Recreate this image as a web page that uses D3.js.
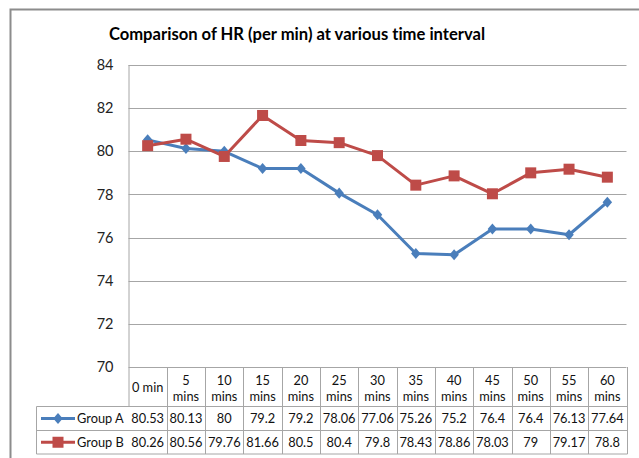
<!DOCTYPE html>
<html>
<head>
<meta charset="utf-8">
<script src="https://cdn.jsdelivr.net/npm/d3@7"></script>
<style>
  body { margin: 0; background: #fff; }
  svg { display: block; font-family: Lato, "Open Sans", sans-serif; font-variant-ligatures: none; }
</style>
</head>
<body>
<svg id="chart"></svg>
<script>
var categories = ["0 min", "5 mins", "10 mins", "15 mins", "20 mins", "25 mins", "30 mins",
  "35 mins", "40 mins", "45 mins", "50 mins", "55 mins", "60 mins"];
var groupA = [80.53, 80.13, 80, 79.2, 79.2, 78.06, 77.06, 75.26, 75.2, 76.4, 76.4, 76.13, 77.64];
var groupB = [80.26, 80.56, 79.76, 81.66, 80.5, 80.4, 79.8, 78.43, 78.86, 78.03, 79, 79.17, 78.8];
var seriesNames = ["Group A", "Group B"];
var yTicks = [70, 72, 74, 76, 78, 80, 82, 84];

function drawChart() {
  var width = 639, height = 458;
  var plotLeft = 128.5, plotRight = 626.5, plotTop = 65, plotBottom = 367;
  var rowH = 406.5, rowA = 430.5, rowB = 454;
  var legendLeft = 36.5;
  var gridColor = "#a6a6a6";
  var colors = ["#4a7ebb", "#be4b48"];

  var svg = d3.select("#chart")
    .attr("width", width)
    .attr("height", height);

  // outer frame
  svg.append("path")
    .attr("d", "M10.5," + height + "V9.5H" + width)
    .attr("fill", "none")
    .attr("stroke", "#8c8c8c")
    .attr("stroke-width", 2);

  var x = d3.scaleBand()
    .domain(categories)
    .range([plotLeft, plotRight])
    .padding(0);

  var y = d3.scaleLinear()
    .domain([70, 84])
    .range([plotBottom, plotTop]);

  // title
  svg.append("text")
    .attr("x", 297)
    .attr("y", 40)
    .attr("text-anchor", "middle")
    .style("font-weight", "bold")
    .style("font-size", "16.6px")
    .text("Comparison of HR (per min) at various time interval");

  // gridlines
  svg.append("g")
    .selectAll("line")
    .data(yTicks)
    .enter()
    .append("line")
    .attr("x1", plotLeft)
    .attr("x2", plotRight)
    .attr("y1", function (d) { return Math.round(y(d)) + 0.5; })
    .attr("y2", function (d) { return Math.round(y(d)) + 0.5; })
    .attr("stroke", gridColor)
    .attr("stroke-width", 1);

  // y axis
  var yAxis = svg.append("g")
    .attr("transform", "translate(" + plotLeft + ",0)")
    .call(d3.axisLeft(y).tickValues(yTicks).tickSize(0).tickPadding(15));
  yAxis.select(".domain").attr("stroke", gridColor).attr("d", "M0.5," + plotTop + "V" + rowH);
  yAxis.selectAll("text")
    .style("font-family", "Lato, sans-serif")
    .style("font-size", "14.5px")
    .attr("fill", "#222");

  // table lines
  var table = svg.append("g")
    .attr("stroke", gridColor)
    .attr("stroke-width", 1)
    .attr("fill", "none");

  var bounds = categories.map(function (c) { return x(c); }).concat([plotRight]);
  table.selectAll("line.v")
    .data(bounds.slice(1))
    .enter()
    .append("line")
    .attr("x1", function (d) { return Math.round(d) + 0.5; })
    .attr("x2", function (d) { return Math.round(d) + 0.5; })
    .attr("y1", plotBottom)
    .attr("y2", rowB);
  table.append("line")
    .attr("x1", legendLeft).attr("x2", legendLeft)
    .attr("y1", rowH).attr("y2", rowB);
  [rowH, rowA, rowB].forEach(function (yy) {
    table.append("line")
      .attr("x1", legendLeft).attr("x2", Math.round(plotRight) + 0.5)
      .attr("y1", yy).attr("y2", yy);
  });

  // header labels
  var header = svg.append("g")
    .style("font-size", "12.8px")
    .attr("fill", "#111")
    .attr("text-anchor", "middle");
  categories.forEach(function (c) {
    var parts = c.split(" ");
    var cx = x(c) + x.bandwidth() / 2;
    if (parts[1] === "min") {
      header.append("text").attr("x", cx).attr("y", 392).text(c);
    } else {
      header.append("text").attr("x", cx).attr("y", 385).text(parts[0]);
      header.append("text").attr("x", cx).attr("y", 401).text(parts[1]);
    }
  });

  // value rows
  var seriesData = [groupA, groupB];
  var rowCenters = [(rowH + rowA) / 2, (rowA + rowB) / 2];
  seriesData.forEach(function (vals, s) {
    svg.append("g")
      .style("font-size", "12.8px")
      .attr("fill", "#111")
      .attr("text-anchor", "middle")
      .selectAll("text")
      .data(vals)
      .enter()
      .append("text")
      .attr("x", function (d, i) { return x(categories[i]) + x.bandwidth() / 2; })
      .attr("y", rowCenters[s] + 4.5)
      .text(function (d) { return d; });
  });

  // markers
  function marker(g, s, cx, cy) {
    if (s === 0) {
      g.append("path")
        .attr("d", d3.symbol().type(d3.symbolDiamond2).size(64)())
        .attr("transform", "translate(" + cx + "," + cy + ") scale(0.95,1.1)")
        .attr("fill", colors[s]);
    } else {
      g.append("rect")
        .attr("x", cx - 5.5).attr("y", cy - 5.5)
        .attr("width", 11).attr("height", 11)
        .attr("fill", colors[s]);
    }
  }

  // legend in table
  seriesNames.forEach(function (name, s) {
    var cy = rowCenters[s];
    var g = svg.append("g");
    g.append("line")
      .attr("x1", 41).attr("x2", 75)
      .attr("y1", cy).attr("y2", cy)
      .attr("stroke", colors[s])
      .attr("stroke-width", 3);
    marker(g, s, 58, cy);
    g.append("text")
      .attr("x", 77)
      .attr("y", cy + 4.5)
      .style("font-size", "12.8px")
      .attr("fill", "#111")
      .text(name);
  });

  // lines
  var line = d3.line()
    .x(function (d, i) { return x(categories[i]) + x.bandwidth() / 2; })
    .y(function (d) { return y(d); });

  seriesData.forEach(function (vals, s) {
    var g = svg.append("g");
    g.append("path")
      .datum(vals)
      .attr("d", line)
      .attr("fill", "none")
      .attr("stroke", colors[s])
      .attr("stroke-width", 3)
      .attr("stroke-linejoin", "round");
    vals.forEach(function (v, i) {
      marker(g, s, x(categories[i]) + x.bandwidth() / 2, y(v));
    });
  });
}

drawChart();
</script>
</body>
</html>
